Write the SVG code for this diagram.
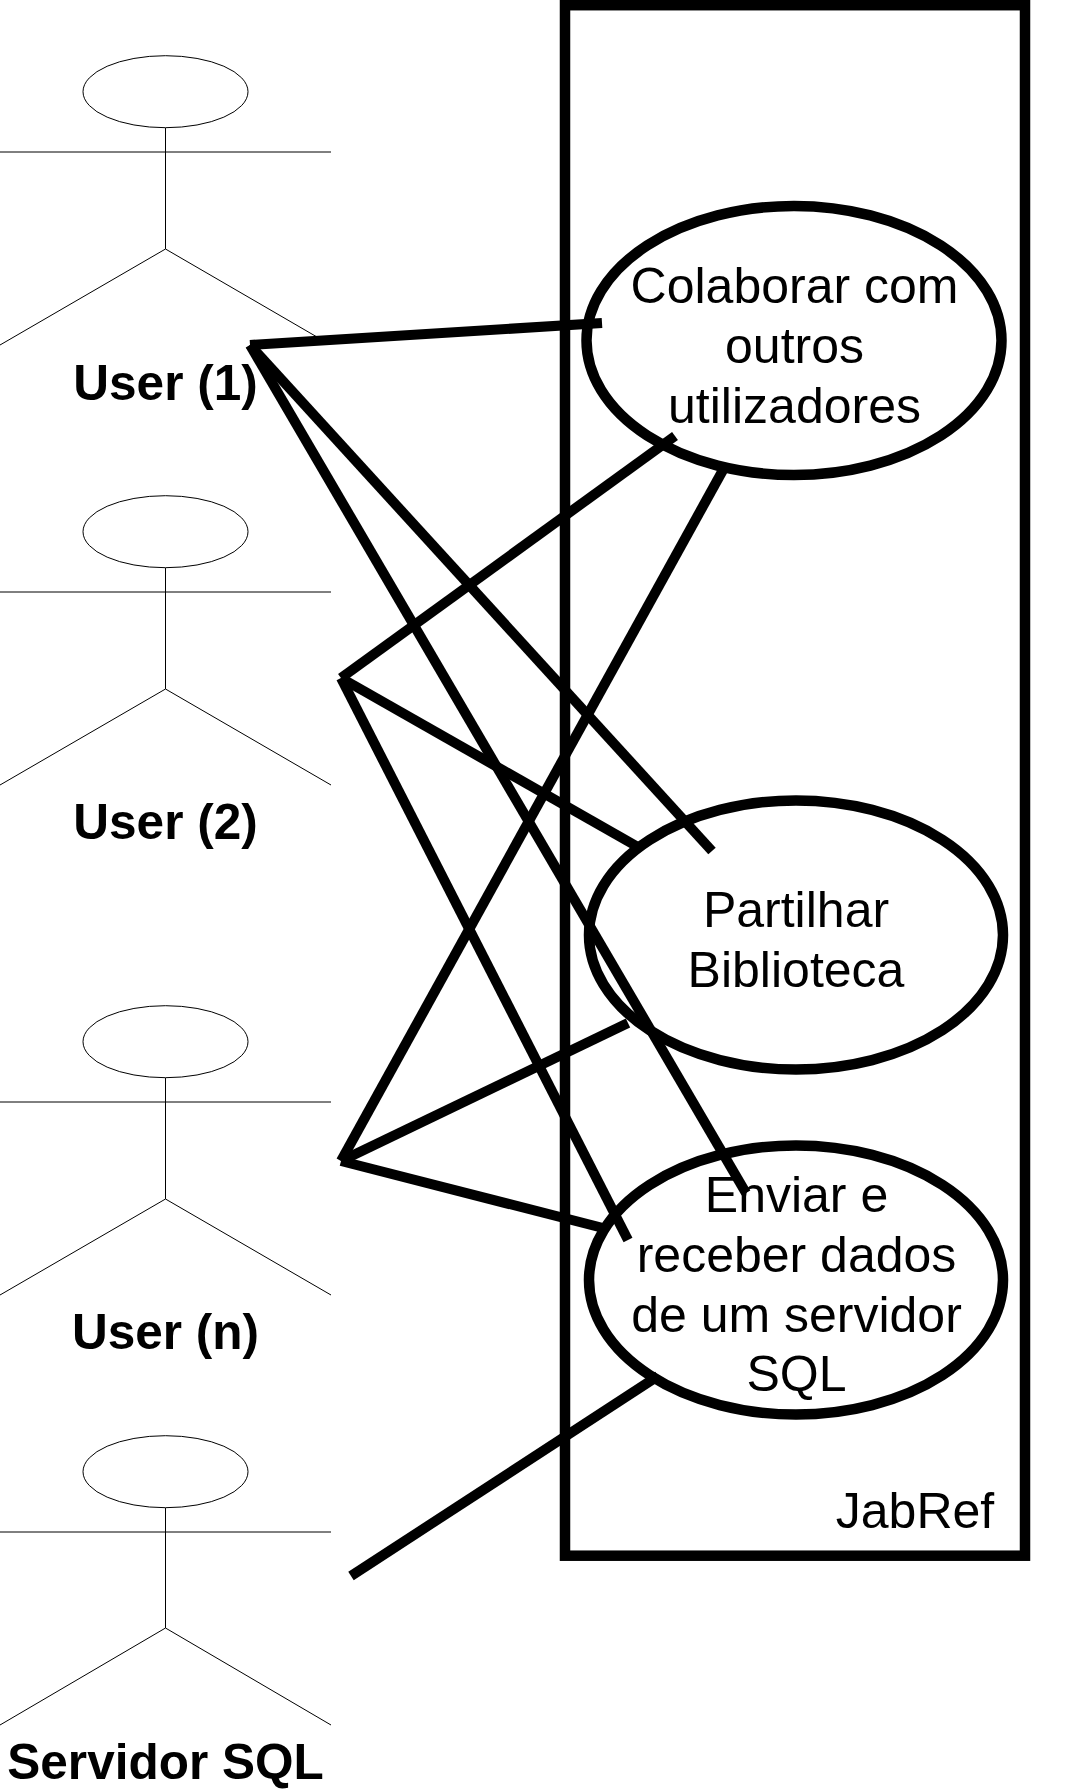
<svg xmlns="http://www.w3.org/2000/svg" width="1087" height="1792" viewBox="0 0 1087 1792">
<style>
.a{fill:none;stroke:#000;stroke-width:1}
.h{fill:#fff;stroke:#000;stroke-width:1}
.l{font:bold 49.5px "Liberation Sans",Arial,sans-serif;text-anchor:middle;fill:#000}
.t{font:50px "Liberation Sans",Arial,sans-serif;text-anchor:middle;fill:#000}
.u{fill:#fff;stroke:#000;stroke-width:10.5}
.c line{stroke:#000;stroke-width:10}
</style>
<rect width="1087" height="1792" fill="#fff"/>
<g id="system"><rect x="565" y="5.200" width="460" height="1550.500" fill="none" stroke="#000" stroke-width="10.500"/><text class="t" x="915" y="1528">JabRef</text></g>
<g id="actor1"><ellipse class="h" cx="165.500" cy="91.700" rx="82.500" ry="36"/><path class="a" d="M165.500 128V249M0 152H331M165.500 249L0 345M165.500 249L317 337"/><text class="l" x="165.500" y="400">User (1)</text></g>
<g id="actor2"><ellipse class="h" cx="165.500" cy="531.700" rx="82.500" ry="36"/><path class="a" d="M165.500 568V689M0 592H331M165.500 689L0 785M165.500 689L331 785"/><text class="l" x="165.500" y="839">User (2)</text></g>
<g id="actorn"><ellipse class="h" cx="165.500" cy="1041.700" rx="82.500" ry="36"/><path class="a" d="M165.500 1078V1199M0 1102H331M165.500 1199L0 1295M165.500 1199L331 1295"/><text class="l" x="165.500" y="1349">User (n)</text></g>
<g id="actorsql"><ellipse class="h" cx="165.500" cy="1471.700" rx="82.500" ry="36"/><path class="a" d="M165.500 1508V1628M0 1532H331M165.500 1628L0 1725M165.500 1628L331 1725"/><text class="l" x="165.500" y="1779">Servidor SQL</text></g>
<g id="uc1"><ellipse class="u" cx="794" cy="340.500" rx="207.500" ry="134.500"/><text class="t" x="794.500" y="302.500">Colaborar com</text><text class="t" x="794.500" y="363">outros</text><text class="t" x="794.500" y="423">utilizadores</text></g>
<g id="uc2"><ellipse class="u" cx="796" cy="935" rx="207" ry="134.500"/><text class="t" x="796" y="927">Partilhar</text><text class="t" x="796" y="987">Biblioteca</text></g>
<g id="uc3"><ellipse class="u" cx="796" cy="1280" rx="207" ry="134.500"/><text class="t" x="796.500" y="1212">Enviar e</text><text class="t" x="796.500" y="1272">receber dados</text><text class="t" x="796.500" y="1332">de um servidor</text><text class="t" x="796.500" y="1391">SQL</text></g>
<g id="connectors" class="c">
<line x1="250" y1="345" x2="602" y2="323"/>
<line x1="250" y1="345" x2="712" y2="851"/>
<line x1="250" y1="345" x2="746" y2="1193"/>
<line x1="341" y1="678" x2="675" y2="436"/>
<line x1="341" y1="678" x2="638" y2="847"/>
<line x1="341" y1="678" x2="628" y2="1240"/>
<line x1="341" y1="1161" x2="723" y2="470"/>
<line x1="341" y1="1161" x2="628" y2="1023"/>
<line x1="341" y1="1161" x2="603" y2="1228"/>
<line x1="351" y1="1576" x2="658" y2="1376"/>
</g>
</svg>
